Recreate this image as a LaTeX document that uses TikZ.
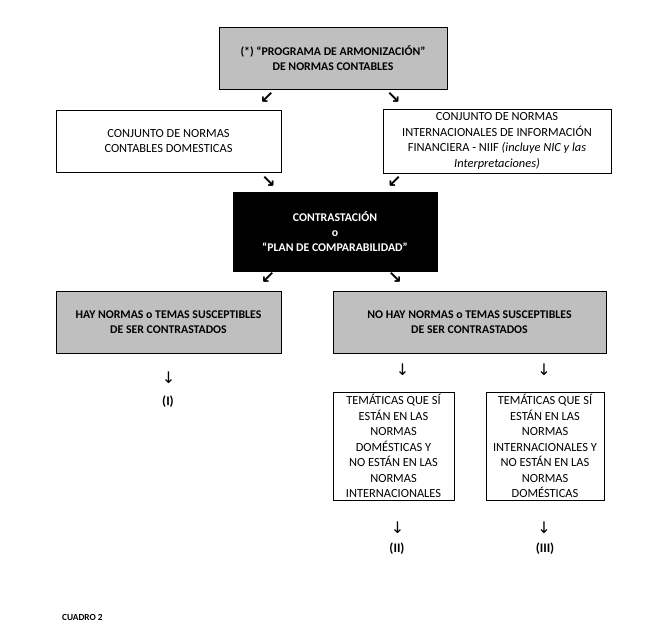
\documentclass[tikz,border=0pt]{standalone}
\usepackage{fontspec}
\setmainfont{Carlito}
\newfontfamily\arrowfont{DejaVu Sans}
\usepackage{xcolor}
\usetikzlibrary{positioning}
\definecolor{boxgray}{HTML}{BFBFBF}

\begin{document}
\begin{tikzpicture}[x=1pt, y=-1pt,
    box/.style={draw=black, line width=0.6pt, fill=white, align=center, font=\fontsize{12.4}{15.5}\selectfont, inner sep=0pt},
    graybox/.style={box, fill=boxgray, font=\fontsize{11.8}{15}\selectfont\bfseries},
    blackbox/.style={box, fill=black, text=white, font=\fontsize{11.8}{15}\selectfont\bfseries},
    diag/.style={font=\fontsize{17}{17}\selectfont\arrowfont\bfseries, inner sep=0pt},
    down/.style={font=\fontsize{16}{16}\selectfont\arrowfont, inner sep=0pt},
    result/.style={font=\fontsize{13}{13}\selectfont\bfseries, inner sep=0pt}]
    \useasboundingbox (0,0) rectangle (647,639);

    % Top row
    \node[graybox, minimum width=228pt, minimum height=62pt] (prog) at (333,58)
        {(*) “PROGRAMA DE ARMONIZACIÓN”\\DE NORMAS CONTABLES};
    \node[diag] (a1) at (267,97.5) {↙};
    \node[diag] (a2) at (393.5,97.5) {↘};

    % Sets of standards
    \node[box, minimum width=225pt, minimum height=62pt] (dom) at (168.5,141)
        {CONJUNTO DE NORMAS\\CONTABLES DOMESTICAS};
    \node[box, minimum width=228pt, minimum height=64pt] (niif) at (497,141)
        {CONJUNTO DE NORMAS\\INTERNACIONALES DE INFORMACIÓN\\FINANCIERA - NIIF \textit{(incluye NIC y las}\\\textit{Interpretaciones)}};
    \node[diag] (a3) at (268.5,181.5) {↘};
    \node[diag] (a4) at (394.5,181.5) {↙};

    % Comparison
    \node[blackbox, minimum width=204pt, minimum height=79pt] (contr) at (335,231.5)
        {CONTRASTACIÓN\\o\\“PLAN DE COMPARABILIDAD”};
    \node[diag] (a5) at (268,277.5) {↙};
    \node[diag] (a6) at (395,277.5) {↘};

    % Outcomes
    \node[graybox, minimum width=225pt, minimum height=62pt] (hay) at (168.5,322)
        {HAY NORMAS o TEMAS SUSCEPTIBLES\\DE SER CONTRASTADOS};
    \node[graybox, minimum width=273pt, minimum height=62pt] (nohay) at (469.5,322)
        {NO HAY NORMAS o TEMAS SUSCEPTIBLES\\DE SER CONTRASTADOS};
    \node[down] (d1) at (168.5,378) {↓};
    \node[result] (r1) at (168,402) {(I)};
    \node[down] (d2) at (402.5,370) {↓};
    \node[down] (d3) at (544,370) {↓};

    % Topics
    \node[box, minimum width=121pt, minimum height=108pt] (temdom) at (393.5,446)
        {TEMÁTICAS QUE SÍ\\ESTÁN EN LAS\\NORMAS\\DOMÉSTICAS Y\\NO ESTÁN EN LAS\\NORMAS\\INTERNACIONALES};
    \node[box, minimum width=118pt, minimum height=108pt] (temint) at (545,446)
        {TEMÁTICAS QUE SÍ\\ESTÁN EN LAS\\NORMAS\\INTERNACIONALES Y\\NO ESTÁN EN LAS\\NORMAS\\DOMÉSTICAS};
    \node[down] (d4) at (397.5,527.5) {↓};
    \node[result] (r2) at (397,549) {(II)};
    \node[down] (d5) at (544,527.5) {↓};
    \node[result] (r3) at (545,549) {(III)};

    % Caption
    \node[font=\fontsize{9.3}{9.3}\selectfont\bfseries, anchor=west, inner sep=0pt] (cap) at (62,617) {CUADRO 2};
\end{tikzpicture}
\end{document}
